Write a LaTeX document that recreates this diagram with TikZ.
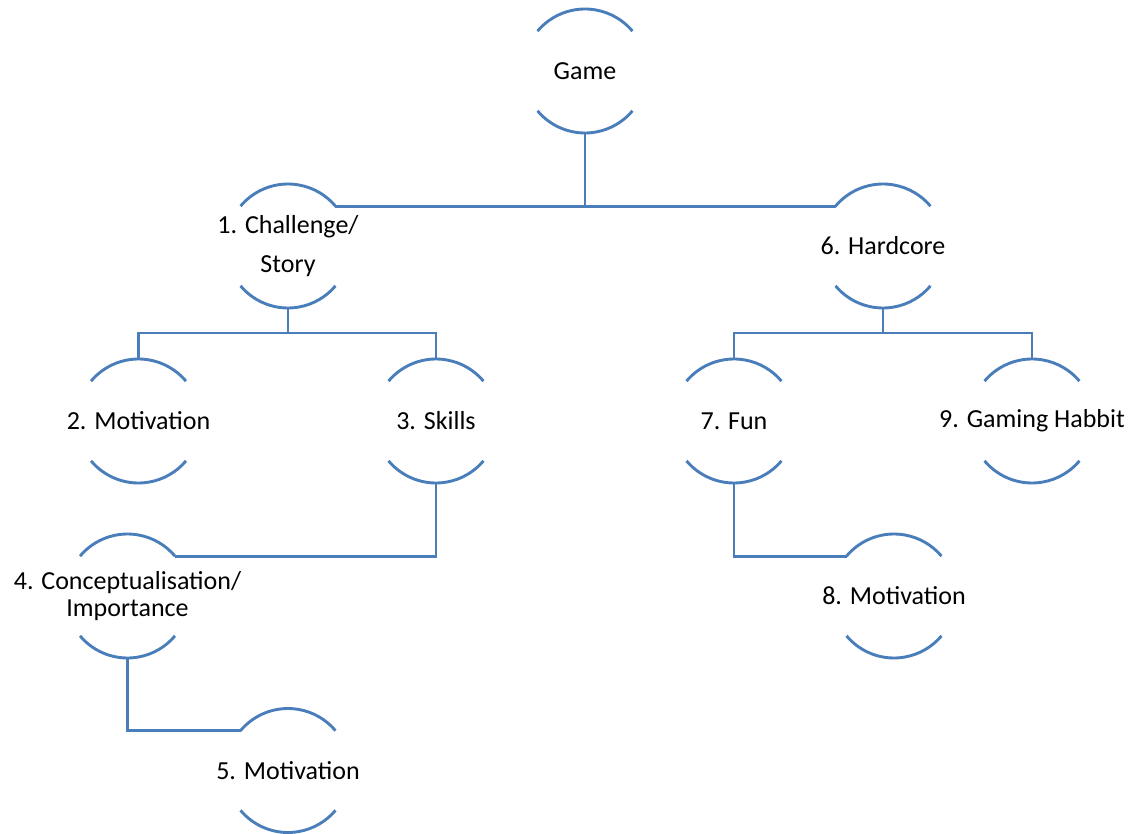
\documentclass[tikz,border=0pt]{standalone}
\usepackage{fontspec}
\setmainfont{Carlito}
\definecolor{linkblue}{RGB}{74,126,187}
\begin{document}
\begin{tikzpicture}[x=1pt, y=-1pt,
  bub/.style={circle, minimum size=124pt, inner sep=0pt, outer sep=0pt},
  txt/.style={align=center, inner sep=0pt, font=\fontsize{26}{39}\selectfont},
  link/.style={draw=linkblue, line width=2.9pt, line join=miter}]
\useasboundingbox (0,0) rectangle (1141,834);

% topic nodes (only their upper and lower arcs are drawn)
\node[bub, label={[txt]center:Game}] (g) at (585,71) {};
\node[bub, label={[txt]center:1. Challenge/\\Story}] (n1) at (288,246) {};
\node[bub, label={[txt]center:6. Hardcore}] (n6) at (883,246) {};
\node[bub, label={[txt]center:2. Motivation}] (n2) at (138.5,421) {};
\node[bub, label={[txt]center:3. Skills}] (n3) at (436,421) {};
\node[bub, label={[txt]center:7. Fun}] (n7) at (734,421) {};
\node[bub, label={[txt]center:9. Gaming Habbit}] (n9) at (1032,421) {};
\node[bub, label={[txt, font=\fontsize{26}{27}\selectfont]center:4. Conceptualisation/\\Importance}] (n4) at (127.5,596) {};
\node[bub, label={[txt]center:8. Motivation}] (n8) at (894,596) {};
\node[bub, label={[txt]center:5. Motivation}] (n5) at (288,770.5) {};

\foreach \n in {g,n1,n6,n2,n3,n7,n9,n4,n8,n5}{
  \draw[link] (\n.140) arc[start angle=140, end angle=40, radius=62pt];
  \draw[link] (\n.220) arc[start angle=220, end angle=320, radius=62pt];
}

% junction levels
\coordinate (j1) at (0,333);

% connectors
\draw[link] (g.south) -- (g.south |- n1.40);
\draw[link] (n1.40) -- (n6.140);

\draw[link] (n1.south) -- (n1.south |- j1);
\draw[link] (n2.north) -- (n2.north |- j1) -- (n3.north |- j1) -- (n3.north);

\draw[link] (n6.south) -- (n6.south |- j1);
\draw[link] (n7.north) -- (n7.north |- j1) -- (n9.north |- j1) -- (n9.north);

\draw[link] (n3.south) |- (n4.40);
\draw[link] (n4.south) |- (n5.140);
\draw[link] (n7.south) |- (n8.140);
\end{tikzpicture}
\end{document}
